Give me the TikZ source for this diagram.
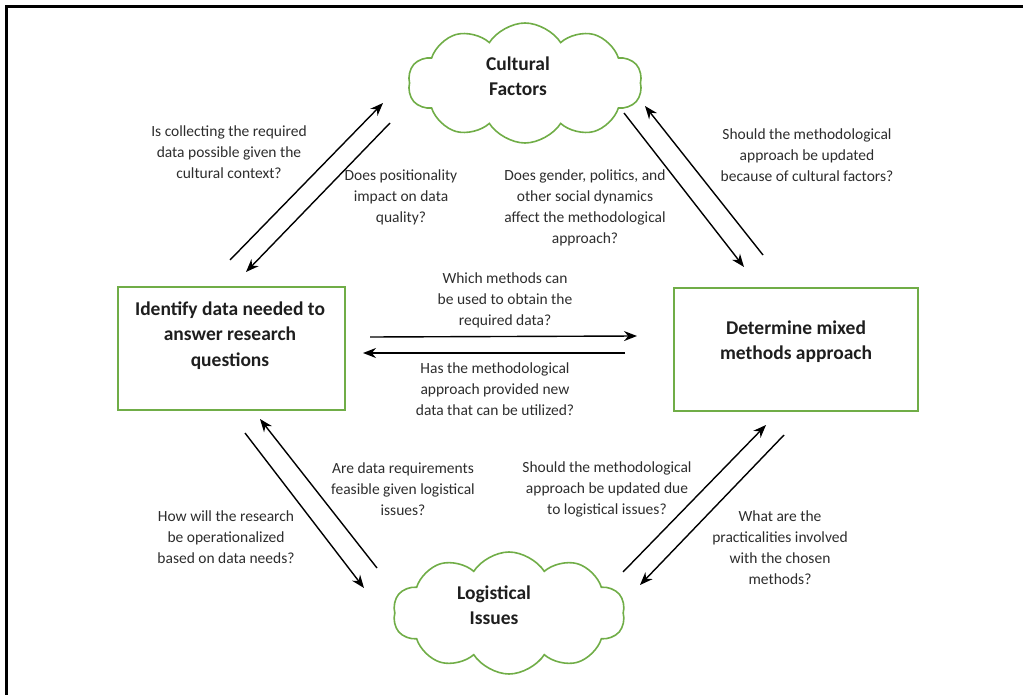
\documentclass[tikz,border=0pt]{standalone}
\usepackage{fontspec}
\setmainfont{Carlito}
\usetikzlibrary{shapes.symbols,arrows.meta}
\definecolor{lgreen}{RGB}{112,173,71}
\definecolor{txt}{RGB}{45,45,45}
\definecolor{btxt}{RGB}{30,30,30}
\begin{document}
\begin{tikzpicture}[x=1pt,y=-1pt,
  lbl/.style={font=\fontsize{15.5}{21}\selectfont, text=txt, align=center, inner sep=0pt},
  boxnode/.style={draw=lgreen, line width=2pt, inner sep=0pt},
  btext/.style={font=\fontsize{19.5}{25.5}\selectfont\bfseries, text=btxt, align=center, inner sep=0pt},
  cloudnode/.style={cloud, cloud puffs=10, cloud puff arc=115, draw=lgreen, line width=1.6pt, inner sep=0pt},
  conn/.style={line width=1.4pt, -{Stealth[length=13pt,width=10pt]}}]
\useasboundingbox (0,0) rectangle (1023,695);
\draw[line width=2.6pt] (6.5,695) -- (6.5,6.5) -- (1023,6.5);

% nodes
\node[cloudnode, minimum width=234pt, minimum height=120pt] (cult) at (525,83) {};
\node[btext] (cultt) at (518,76) {Cultural\\Factors};
\node[cloudnode, minimum width=232pt, minimum height=122pt] (logi) at (509,613) {};
\node[btext] (logit) at (494,605) {Logistical\\Issues};
\node[boxnode, minimum width=227pt, minimum height=123pt] (ident) at (231,348.5) {};
\node[btext] (identt) at (230,335.5) {Identify data needed to\\answer research\\questions};
\node[boxnode, minimum width=244pt, minimum height=123pt] (mixed) at (796,349.5) {};
\node[btext] (mixedt) at (796,341.5) {Determine mixed\\methods approach};

% arrow endpoints
\coordinate (a1s) at (230,260); \coordinate (a1e) at (383,103);
\coordinate (a2s) at (390,123); \coordinate (a2e) at (246,272);
\coordinate (b1s) at (624,113); \coordinate (b1e) at (744,267);
\coordinate (b2s) at (763,255); \coordinate (b2e) at (645,106);
\coordinate (m1s) at (370,337); \coordinate (m1e) at (637,336);
\coordinate (m2s) at (625,353); \coordinate (m2e) at (363,353);
\coordinate (c1s) at (245,433); \coordinate (c1e) at (364,588);
\coordinate (c2s) at (377,568); \coordinate (c2e) at (260,419);
\coordinate (d1s) at (623,572); \coordinate (d1e) at (766,425);
\coordinate (d2s) at (784,435); \coordinate (d2e) at (640,585);

\draw[conn] (a1s) -- (a1e);
\draw[conn] (a2s) -- (a2e);
\draw[conn] (b1s) -- (b1e);
\draw[conn] (b2s) -- (b2e);
\draw[conn] (m1s) -- (m1e);
\draw[conn] (m2s) -- (m2e);
\draw[conn] (c1s) -- (c1e);
\draw[conn] (c2s) -- (c2e);
\draw[conn] (d1s) -- (d1e);
\draw[conn] (d2s) -- (d2e);

% labels
\node[lbl] (l1) at (229,152) {Is collecting the required\\data possible given the\\cultural context?};
\node[lbl] (l2) at (401,197) {Does positionality\\impact on data\\quality?};
\node[lbl] (l3) at (585,207.5) {Does gender, politics, and\\other social dynamics\\affect the methodological\\approach?};
\node[lbl] (l4) at (807,155) {Should the methodological\\approach be updated\\because of cultural factors?};
\node[lbl] (l5) at (505,300) {Which methods can\\be used to obtain the\\required data?};
\node[lbl] (l6) at (495,389.5) {Has the methodological\\approach provided new\\data that can be utilized?};
\node[lbl] (l7) at (403,489) {Are data requirements\\feasible given logistical\\issues?};
\node[lbl] (l8) at (226,537.5) {How will the research\\be operationalized\\based on data needs?};
\node[lbl] (l9) at (607,489) {Should the methodological\\approach be updated due\\to logistical issues?};
\node[lbl] (l10) at (780,547.5) {What are the\\practicalities involved\\with the chosen\\methods?};
\end{tikzpicture}
\end{document}
